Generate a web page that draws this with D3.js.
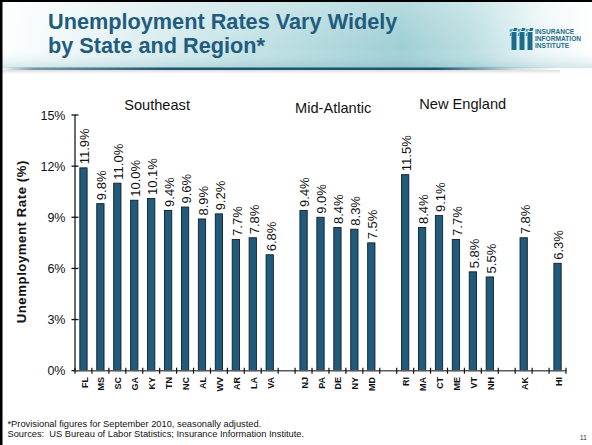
<!DOCTYPE html>
<html>
<head>
<meta charset="utf-8">
<script src="https://cdn.jsdelivr.net/npm/d3@7"></script>
<style>
  html, body { margin: 0; padding: 0; background: #fff; }
  svg { display: block; font-family: "Liberation Sans", Arial, sans-serif; }
  .note { white-space: pre; }
</style>
</head>
<body>
<svg id="chart" width="592" height="445"></svg>
<script>
// State codes in plotting order; null entries are the empty slots between regions.
const states = ["FL","MS","SC","GA","KY","TN","NC","AL","WV","AR","LA","VA", null,
                "NJ","PA","DE","NY","MD", null,
                "RI","MA","CT","ME","VT","NH", null,
                "AK", null, "HI"];
// Unemployment rate (%), aligned with `states`.
const rates = [11.9, 9.8, 11.0, 10.0, 10.1, 9.4, 9.6, 8.9, 9.2, 7.7, 7.8, 6.8, null,
               9.4, 9.0, 8.4, 8.3, 7.5, null,
               11.5, 8.4, 9.1, 7.7, 5.8, 5.5, null,
               7.8, null, 6.3];
const yTicks = [0, 3, 6, 9, 12, 15];
// Region headings and the slot position (in category units) they sit over.
const regions = ["Southeast", "Mid-Atlantic", "New England"];
const regionSlots = [4.85, 15.25, 22.9];
const regionBaselines = [110, 112.5, 108.5];

const titleLines = ["Unemployment Rates Vary Widely", "by State and Region*"];
const footnotes = ["*Provisional figures for September 2010, seasonally adjusted.",
                   "Sources:  US Bureau of Labor Statistics; Insurance Information Institute."];
const logoWords = ["INSURANCE", "INFORMATION", "INSTITUTE"];

const svg = d3.select("#chart");
const defs = svg.append("defs");

// ---- header band ----
const hg = defs.append("linearGradient").attr("id", "headGrad").attr("x1", 0).attr("x2", 1).attr("y1", 0).attr("y2", 0);
[[0, "#ffffff"], [0.12, "#eef7f8"], [0.45, "#bfe0e4"], [0.68, "#9fcfd4"], [0.8, "#bcdfe2"], [0.92, "#eef7f8"], [1, "#ffffff"]]
  .forEach(([o, c]) => hg.append("stop").attr("offset", o).attr("stop-color", c));
const hv = defs.append("linearGradient").attr("id", "headShade").attr("x1", 0).attr("x2", 0).attr("y1", 0).attr("y2", 1);
hv.append("stop").attr("offset", 0).attr("stop-color", "#ffffff").attr("stop-opacity", 0.25);
hv.append("stop").attr("offset", 0.7).attr("stop-color", "#ffffff").attr("stop-opacity", 0);
hv.append("stop").attr("offset", 1).attr("stop-color", "#5fa6b0").attr("stop-opacity", 0.25);
const lg = defs.append("linearGradient").attr("id", "ruleGrad").attr("x1", 0).attr("x2", 1).attr("y1", 0).attr("y2", 0);
[[0, "#1d5470", 0], [0.06, "#1d5470", 0.6], [0.3, "#1d5470", 1], [0.78, "#1d5470", 1], [0.92, "#1d5470", 0.2], [1, "#1d5470", 0]]
  .forEach(([o, c, a]) => lg.append("stop").attr("offset", o).attr("stop-color", c).attr("stop-opacity", a));
const sg = defs.append("linearGradient").attr("id", "shadowGrad").attr("x1", 0).attr("x2", 0).attr("y1", 0).attr("y2", 1);
sg.append("stop").attr("offset", 0).attr("stop-color", "#000").attr("stop-opacity", 0.22);
sg.append("stop").attr("offset", 1).attr("stop-color", "#000").attr("stop-opacity", 0);

svg.append("rect").attr("x", 0).attr("y", 0).attr("width", 592).attr("height", 68).attr("fill", "url(#headGrad)");
svg.append("rect").attr("x", 0).attr("y", 0).attr("width", 592).attr("height", 68).attr("fill", "url(#headShade)");
svg.append("rect").attr("x", 0).attr("y", 70).attr("width", 560).attr("height", 4).attr("fill", "url(#shadowGrad)").attr("opacity", 0.6);
svg.append("rect").attr("x", 0).attr("y", 67.5).attr("width", 560).attr("height", 2.5).attr("fill", "url(#ruleGrad)");

// title
svg.append("g").selectAll("text").data(titleLines).join("text")
  .attr("x", 48).attr("y", (d, i) => 28.5 + i * 24.5)
  .attr("font-size", 21.7).attr("font-weight", "bold").attr("fill", "#215c7e")
  .text(d => d);

// logo: three pillars with hatched tops, plus wordmark
const logo = svg.append("g").attr("transform", "translate(510,28)");
[0, 8, 16].forEach(px => {
  logo.append("rect").attr("x", px + 1.5).attr("y", 4).attr("width", 5).attr("height", 18).attr("fill", "#1b6c8a");
  logo.append("path").attr("d", `M${px},1 L${px + 3},1 L${px + 2},3.5 L${px - 1},3.5 Z`).attr("fill", "#4fa6c4");
  logo.append("path").attr("d", `M${px + 4},0 L${px + 7.5},0 L${px + 6.5},3 L${px + 3},3 Z`).attr("fill", "#1b6c8a");
  logo.append("path").attr("d", `M${px},5 L${px + 1.5},5 L${px + 1.5},8 L${px - 0.5},8 Z`).attr("fill", "#4fa6c4");
});
logo.selectAll("text").data(logoWords).join("text")
  .attr("x", 25).attr("y", (d, i) => 5.5 + i * 7.2)
  .attr("font-size", 6.6).attr("font-weight", "bold").attr("fill", "#1d6e8a")
  .text(d => d);

// frame edges
svg.append("rect").attr("x", 0).attr("y", 0).attr("width", 592).attr("height", 2).attr("fill", "#000");
svg.append("rect").attr("x", 0).attr("y", 0).attr("width", 2.5).attr("height", 445).attr("fill", "#000");

// ---- chart ----
const plotLeft = 75, plotRight = 566, plotTop = 115, plotBottom = 370.7;
const x = d3.scaleBand().domain(d3.range(states.length)).range([plotLeft, plotRight]).paddingInner(0).paddingOuter(0);
const slot = d3.scaleLinear().domain([0, states.length]).range([plotLeft, plotRight]);
const y = d3.scaleLinear().domain([0, 15]).range([plotBottom, plotTop]);
const barW = x.bandwidth() * 0.43;
const axisColor = "#3a3a3a";

const items = states.map((s, i) => ({ s, v: rates[i], i })).filter(d => d.s !== null);

// bars
svg.append("g").selectAll("rect").data(items).join("rect")
  .attr("x", d => x(d.i) + (x.bandwidth() - barW) / 2)
  .attr("y", d => y(d.v))
  .attr("width", barW)
  .attr("height", d => y(0) - y(d.v))
  .attr("fill", "#215a7a").attr("stroke", "#0d1f2a").attr("stroke-width", 0.9);

// value labels
const fmt = d3.format(".1f");
svg.append("g").selectAll("text").data(items).join("text")
  .attr("transform", d => `translate(${x(d.i) + x.bandwidth() / 2 + 1.2},${y(d.v) - 3.5}) rotate(-90)`)
  .attr("dy", "0.36em")
  .attr("font-size", 13).attr("fill", "#111")
  .text(d => fmt(d.v) + "%");

// y axis
const yAxis = svg.append("g");
yAxis.append("line").attr("x1", plotLeft).attr("x2", plotLeft).attr("y1", plotTop).attr("y2", plotBottom)
  .attr("stroke", axisColor).attr("stroke-width", 1.5);
yAxis.selectAll("line.tick").data(yTicks).join("line").attr("class", "tick")
  .attr("x1", plotLeft - 3.5).attr("x2", plotLeft + 3.5).attr("y1", d => y(d)).attr("y2", d => y(d))
  .attr("stroke", "#111").attr("stroke-width", 1.3);
yAxis.selectAll("text").data(yTicks).join("text")
  .attr("x", 65.5).attr("y", d => y(d)).attr("dy", "0.36em").attr("text-anchor", "end")
  .attr("font-size", 12.5).attr("fill", "#111")
  .text(d => d + "%");

// x axis with a tick at every slot boundary
const xAxis = svg.append("g");
xAxis.append("line").attr("x1", plotLeft).attr("x2", plotRight).attr("y1", plotBottom).attr("y2", plotBottom)
  .attr("stroke", "#5a5a5a").attr("stroke-width", 1.5);
xAxis.selectAll("line.tick").data(d3.range(states.length + 1)).join("line").attr("class", "tick")
  .attr("x1", d => slot(d)).attr("x2", d => slot(d)).attr("y1", plotBottom - 3).attr("y2", plotBottom + 3)
  .attr("stroke", "#111").attr("stroke-width", 1.2);
xAxis.selectAll("text").data(items).join("text")
  .attr("transform", d => `translate(${x(d.i) + x.bandwidth() / 2 + 0.8},377) rotate(-90)`)
  .attr("dy", "0.36em").attr("text-anchor", "end")
  .attr("font-size", 9).attr("font-weight", "bold").attr("fill", "#111")
  .text(d => d.s);

// axis title
svg.append("text")
  .attr("transform", "translate(21.7,241.7) rotate(-90)")
  .attr("dy", "0.36em").attr("text-anchor", "middle")
  .attr("font-size", 13.2).attr("font-weight", "bold").attr("letter-spacing", 0.55).attr("fill", "#111")
  .text("Unemployment Rate (%)");

// region headings
svg.append("g").selectAll("text").data(regions).join("text")
  .attr("x", (d, i) => slot(regionSlots[i])).attr("y", (d, i) => regionBaselines[i])
  .attr("text-anchor", "middle").attr("font-size", 14.6).attr("fill", "#111")
  .text(d => d);

// footnotes
svg.append("g").selectAll("text").data(footnotes).join("text")
  .attr("class", "note")
  .attr("x", 7.5).attr("y", (d, i) => 426.5 + i * 10.5)
  .attr("font-size", 9.3).attr("fill", "#111")
  .text(d => d);
svg.append("text").attr("x", 587).attr("y", 439.5).attr("text-anchor", "end")
  .attr("font-size", 7).attr("fill", "#333").text("11");
</script>
</body>
</html>
